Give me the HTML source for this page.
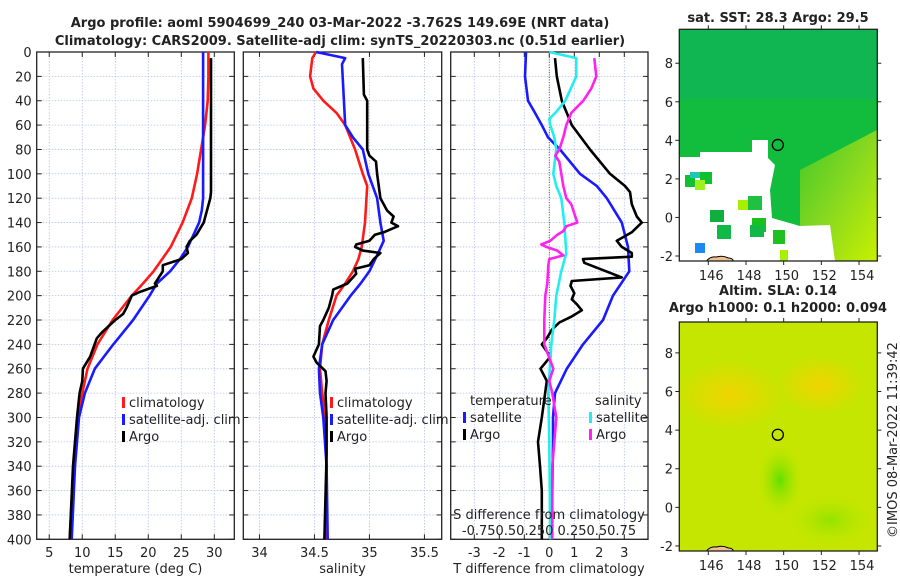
<!DOCTYPE html>
<html><head><meta charset="utf-8">
<style>
body{margin:0;background:#fff;}
svg{display:block;font-family:"DejaVu Sans","Liberation Sans",sans-serif;}
text{fill:#222;}
</style></head>
<body>
<svg id="fig" width="900" height="580" viewBox="0 0 900 580" xmlns="http://www.w3.org/2000/svg">
<defs>
<linearGradient id="ylg" x1="0" y1="0" x2="1" y2="1"><stop offset="0" stop-color="#40c828"/><stop offset="0.5" stop-color="#88d820"/><stop offset="1" stop-color="#c8f000"/></linearGradient>
<radialGradient id="org1" cx="0.5" cy="0.5" r="0.5"><stop offset="0" stop-color="#f0d400"/><stop offset="1" stop-color="#f0d400" stop-opacity="0"/></radialGradient>
<radialGradient id="grn1" cx="0.5" cy="0.5" r="0.5"><stop offset="0" stop-color="#60e000"/><stop offset="1" stop-color="#a8e400" stop-opacity="0"/></radialGradient>
</defs>
<g id="titles">
<text x="340" y="27" text-anchor="middle" font-weight="bold" font-size="13">Argo profile: aoml 5904699_240 03-Mar-2022 -3.762S 149.69E (NRT data)</text>
<text x="340" y="45" text-anchor="middle" font-weight="bold" font-size="13">Climatology: CARS2009. Satellite-adj clim: synTS_20220303.nc (0.51d earlier)</text>
<text x="778" y="22" text-anchor="middle" font-weight="bold" font-size="13">sat. SST: 28.3 Argo: 29.5</text>
<text x="778" y="295" text-anchor="middle" font-weight="bold" font-size="13">Altim. SLA: 0.14</text>
<text x="778" y="312" text-anchor="middle" font-weight="bold" font-size="13">Argo h1000: 0.1 h2000: 0.094</text>
<text transform="translate(897,440) rotate(-90)" text-anchor="middle" font-size="13">©IMOS 08-Mar-2022 11:39:42</text>
</g>
<g id="maps"></g>
<g id="plots"></g>
</svg>
<script>
// ---- data ----
const depthTicks=[0,20,40,60,80,100,120,140,160,180,200,220,240,260,280,300,320,340,360,380,400];
const tempTicks=[5,10,15,20,25,30];
const salTicks=[34,34.5,35,35.5];
const diffTicks=[-3,-2,-1,0,1,2,3];
const sdiffLabels="-0.750.50.250 0.250.50.75";
const tClimDepth=[0,20,40,60,80,100,120,140,160,180,190,200,220,240,260,280,300,340,400];
const tClim=[29.1,29.1,29.0,28.6,28.0,27.4,26.6,25.2,23.4,20.8,19.2,17.5,14.6,12.3,10.8,10.0,9.4,8.7,8.1];
const tSatDepth=[0,40,80,120,130,140,160,170,180,190,200,220,240,260,280,300,340,400];
const tSat=[28.3,28.3,28.3,28.3,28.1,27.7,26.0,24.8,23.3,21.3,20.2,17.7,14.7,11.9,10.4,9.5,8.9,8.4];
const tArgoDepth=[5,40,80,115,120,130,140,150,155,160,165,170,175,180,190,192,197,200,210,215,220,230,235,250,260,270,280,300,340,400];
const tArgo=[29.5,29.5,29.5,29.5,29.4,28.9,28.4,27.3,26.3,25.8,26.0,25.0,22.2,22.2,21.0,21.3,18.7,17.5,16.7,16.2,15.0,13.0,12.2,11.2,10.1,10.0,9.6,9.2,8.6,8.1];
const sClimDepth=[0,5,20,30,40,50,60,80,100,110,140,160,170,180,190,200,220,240,260,280,300,340,400];
const sClim=[34.515,34.48,34.46,34.49,34.58,34.70,34.78,34.87,34.94,34.98,34.96,34.93,34.90,34.85,34.78,34.70,34.63,34.57,34.55,34.57,34.60,34.61,34.61];
const sSatDepth=[0,5,10,60,70,80,100,120,140,155,165,180,190,200,220,240,260,280,300,340,400];
const sSat=[34.515,34.78,34.75,34.78,34.85,34.94,34.99,35.07,35.10,35.13,35.08,35.00,34.92,34.83,34.67,34.57,34.54,34.55,34.58,34.61,34.62];
const sArgoDepth=[5,35,40,80,85,90,100,120,130,135,140,143,148,150,155,158,160,163,165,170,175,178,182,190,195,200,210,220,225,240,250,255,262,270,280,300,330,400];
const sArgo=[34.94,34.95,34.98,34.98,35.0,35.06,35.07,35.10,35.16,35.22,35.20,35.26,35.13,35.05,35.0,34.88,34.87,34.94,35.10,35.04,35.0,34.87,34.88,34.80,34.67,34.66,34.63,34.58,34.55,34.54,34.49,34.52,34.60,34.61,34.60,34.61,34.61,34.59];
const dtSatDepth=[0,20,40,50,60,70,80,100,110,120,140,160,180,200,220,240,260,280,300,320,360,400];
const dtSat=[-0.93,-0.97,-0.85,-0.57,-0.3,-0.05,0.43,1.23,1.9,2.3,2.9,3.15,3.2,2.55,2.15,1.35,0.7,0.23,0.15,0.15,0.12,0.1];
const dtArgoDepth=[5,20,40,60,80,100,110,115,125,135,140,148,155,160,165,168,170,173,185,188,192,198,203,207,212,217,222,228,235,240,250,260,270,300,320,340,360,400];
const dtArgo=[0.23,0.3,0.5,0.9,1.63,2.43,3.03,3.23,3.3,3.5,3.7,3.3,2.7,2.9,3.3,3.3,1.35,1.4,2.9,0.9,0.85,1.0,0.9,1.1,1.3,0.9,0.4,0.1,-0.1,-0.3,0.05,-0.35,-0.1,-0.3,-0.45,-0.37,-0.3,-0.3];
const dsSatDepth=[0,5,20,40,50,55,60,70,80,100,110,120,140,165,180,200,220,240,280,320,400];
const dsSat=[0.0,0.27,0.27,0.16,0.06,0.0,0.01,0.05,0.07,0.04,0.07,0.12,0.15,0.17,0.12,0.07,0.05,0.02,-0.01,0.0,0.01];
const dsArgoDepth=[5,20,30,40,50,60,70,80,85,90,100,110,120,125,130,140,143,147,150,155,158,160,163,167,170,175,190,200,220,240,260,270,280,300,340,400];
const dsArgo=[0.45,0.47,0.42,0.34,0.22,0.17,0.14,0.10,0.06,0.10,0.12,0.14,0.17,0.22,0.24,0.28,0.17,0.14,0.08,0.01,-0.08,-0.03,0.08,0.14,0.0,-0.01,-0.02,-0.04,-0.05,-0.05,0.04,0.0,0.03,0.07,0.03,0.03];
const latTicks=[-2,0,2,4,6,8];
const lonTicks=[146,148,150,152,154];
const argoLon=149.69, argoLat=3.762;

// ---- helpers ----
const NS="http://www.w3.org/2000/svg";
const plots=document.getElementById('plots');
const maps=document.getElementById('maps');
function mk(tag,attrs,parent){const e=document.createElementNS(NS,tag);for(const k in attrs)e.setAttribute(k,attrs[k]);parent.appendChild(e);return e;}
const Y0=52,Y1=539.3;
function yD(d){return Y0+(d/400)*(Y1-Y0);}

function panel(name,x0,x1,dmin,dmax,ticks,tickFmt,showY){
  const g=mk('g',{},plots);
  
  
  const xs=v=>x0+(v-dmin)/(dmax-dmin)*(x1-x0);
  depthTicks.forEach(d=>{
    const l=mk('line',{x1:x0,x2:x1,y1:yD(d),y2:yD(d),stroke:'#b8c0e8','stroke-width':0.8,'stroke-dasharray':'1.5,1.5'},g);
    
    
    mk('line',{x1:x0,x2:x0+5,y1:yD(d),y2:yD(d),stroke:'#222','stroke-width':1},g);
    mk('line',{x1:x1-5,x2:x1,y1:yD(d),y2:yD(d),stroke:'#222','stroke-width':1},g);
    if(showY){const t=mk('text',{x:x0-5,y:yD(d)+5,'text-anchor':'end','font-size':13},g);t.textContent=d;
      
      }
  });
  ticks.forEach(v=>{
    const l=mk('line',{x1:xs(v),x2:xs(v),y1:Y0,y2:Y1,stroke:'#b8c0e8','stroke-width':0.8,'stroke-dasharray':'1.5,1.5'},g);
    
    
    mk('line',{x1:xs(v),x2:xs(v),y1:Y1-5,y2:Y1,stroke:'#222','stroke-width':1},g);
    mk('line',{x1:xs(v),x2:xs(v),y1:Y0,y2:Y0+5,stroke:'#222','stroke-width':1},g);
    const t=mk('text',{x:xs(v),y:557,'text-anchor':'middle','font-size':13},g);t.textContent=tickFmt(v);
    
    
  });
  const fr=mk('rect',{x:x0,y:Y0,width:x1-x0,height:Y1-Y0,fill:'none',stroke:'#222','stroke-width':1.3},g);
  
  
  return {g,xs};
}
function line(p,vals,depths,color,name,w){
  const pts=vals.map((v,i)=>p.xs(v).toFixed(1)+','+yD(depths[i]).toFixed(1)).join(' ');
  const l=mk('polyline',{points:pts,fill:'none',stroke:color,'stroke-width':w||2.6,'stroke-linejoin':'round'},p.g);
  
  
}
function legend(g,x,y,color,label,name){
  mk('rect',{x:x,y:y-10,width:3,height:11,fill:color},g);
  const t=mk('text',{x:x+7,y:y,'font-size':13},g);t.textContent=label;
  
  
}

// ---- panel 1 temperature ----
const p1=panel('temperature-panel',36.7,234.3,3.1,33.03,tempTicks,v=>v,true);
line(p1,tClim,tClimDepth,'#ff1a1a','temp-climatology-line');
line(p1,tSat,tSatDepth,'#1a1aff','temp-satellite-line');
line(p1,tArgo,tArgoDepth,'#000','temp-argo-line');
legend(p1.g,122,407,'#ff1a1a','climatology','legend-climatology');
legend(p1.g,122,424,'#1a1aff','satellite-adj. clim','legend-satellite');
legend(p1.g,122,441,'#000','Argo','legend-argo');
{const t=mk('text',{x:135.5,y:573,'text-anchor':'middle','font-size':13},p1.g);t.textContent='temperature (deg C)';
}

// ---- panel 2 salinity ----
const p2=panel('salinity-panel',243.3,441.7,33.853,35.657,salTicks,v=>v,false);
line(p2,sClim,sClimDepth,'#ff1a1a','sal-climatology-line');
line(p2,sSat,sSatDepth,'#1a1aff','sal-satellite-line');
line(p2,sArgo,sArgoDepth,'#000','sal-argo-line');
legend(p2.g,330,407,'#ff1a1a','climatology','legend-climatology');
legend(p2.g,330,424,'#1a1aff','satellite-adj. clim','legend-satellite');
legend(p2.g,330,441,'#000','Argo','legend-argo');
{const t=mk('text',{x:342.5,y:573,'text-anchor':'middle','font-size':13},p2.g);t.textContent='salinity';
}

// ---- panel 3 differences ----
const p3=panel('difference-panel',450.7,648,-3.944,3.948,diffTicks,v=>v,false);
{const z=mk('line',{x1:p3.xs(0),x2:p3.xs(0),y1:Y0,y2:Y1,stroke:'#556b2f','stroke-width':1,'stroke-dasharray':'1,1.5'},p3.g);
}
line(p3,dtSat,dtSatDepth,'#1a1aff','tdiff-satellite-line');
line(p3,dtArgo,dtArgoDepth,'#000','tdiff-argo-line');
line(p3,dsSat.map(v=>v*4),dsSatDepth,'#22eeee','sdiff-satellite-line');
line(p3,dsArgo.map(v=>v*4),dsArgoDepth,'#ff22ee','sdiff-argo-line');
{const t=mk('text',{x:470,y:405,'font-size':13},p3.g);t.textContent='temperature';

const s=mk('text',{x:595,y:405,'font-size':13},p3.g);s.textContent='salinity';
}
legend(p3.g,463,422,'#1a1aff','satellite','legend-t-satellite');
legend(p3.g,463,439,'#000','Argo','legend-t-argo');
legend(p3.g,589,422,'#22eeee','satellite','legend-s-satellite');
legend(p3.g,589,439,'#ff22ee','Argo','legend-s-argo');
{const t=mk('text',{x:549,y:519,'text-anchor':'middle','font-size':13},p3.g);t.textContent='S difference from climatology';

const u=mk('text',{x:549,y:535,'text-anchor':'middle','font-size':13},p3.g);u.textContent=sdiffLabels;

const w=mk('text',{x:549,y:573,'text-anchor':'middle','font-size':13},p3.g);w.textContent='T difference from climatology';
}

// ---- maps ----
const MX0=679.3,MX1=877.3,LON0=144.46,LON1=154.97;
const mxs=v=>MX0+(v-LON0)/(LON1-LON0)*(MX1-MX0);
function mapAxes(name,yT,yB,latT,latB,drawBg){
  const g=mk('g',{},maps);
  
  
  const ys=v=>yT+(latT-v)/(latT-latB)*(yB-yT);
  drawBg(g,ys);
  latTicks.forEach(v=>{
    mk('line',{x1:MX0,x2:MX0-4,y1:ys(v),y2:ys(v),stroke:'#222'},g);
    mk('line',{x1:MX1,x2:MX1+4,y1:ys(v),y2:ys(v),stroke:'#222'},g);
    const t=mk('text',{x:673,y:ys(v)+5,'text-anchor':'end','font-size':13},g);t.textContent=v;
    
  });
  lonTicks.forEach(v=>{
    mk('line',{x1:mxs(v),x2:mxs(v),y1:yB,y2:yB+4,stroke:'#222'},g);
    mk('line',{x1:mxs(v),x2:mxs(v),y1:yT,y2:yT-4,stroke:'#222'},g);
    const t=mk('text',{x:mxs(v)+3,y:yB+19,'text-anchor':'middle','font-size':13},g);t.textContent=v;
    
  });
  const c=mk('circle',{cx:mxs(argoLon),cy:ys(argoLat),r:5.5,fill:'none',stroke:'#000','stroke-width':1.3},g);
  
  const isl=mk('path',{d:`M${mxs(145.9)},${yB} q4,-5 10,-4 q6,-2 12,1 q4,0 5,3 z`,fill:'#f0c090',stroke:'#000','stroke-width':1},g);
  
  const fr=mk('rect',{x:MX0,y:yT,width:MX1-MX0,height:yB-yT,fill:'none',stroke:'#222','stroke-width':1.3},g);
  
}
mapAxes('sst-map',29.3,261,9.76,-2.26,(g,ys)=>{
  mk('rect',{x:MX0,y:29.3,width:MX1-MX0,height:231.7,fill:'#12bc3c'},g);
  mk('rect',{x:MX0,y:29.3,width:MX1-MX0,height:70,fill:'#10b458',opacity:0.8},g);
  mk('polygon',{points:'800,170 877,130 877,261 835,261 800,235',fill:'url(#ylg)'},g);
  mk('polygon',{points:'679.3,157 700,157 700,152 752,152 752,140 768,140 768,158 775,165 770,190 772,218 800,226 830,225 835,261 679.3,261',fill:'#fff'},g);
  [[700,172,12,12,'#10c030'],[685,175,10,12,'#10c030'],[695,180,10,10,'#a0f020'],[710,210,14,12,'#10b040'],[748,196,14,14,'#20c040'],[752,218,14,14,'#18c020'],[738,200,10,10,'#a8f000'],[717,225,14,14,'#10b848'],[750,225,14,12,'#10b848'],[773,230,12,14,'#20c020'],[695,243,10,10,'#1e88f0'],[690,172,10,6,'#20c8b0'],[780,250,8,11,'#a8f000']].forEach(r=>{
    const e=mk('rect',{x:r[0],y:r[1],width:r[2],height:r[3],fill:r[4]},g);
    
  });
});
mapAxes('sla-map',322,551,9.6,-2.26,(g,ys)=>{
  mk('rect',{x:MX0,y:322,width:MX1-MX0,height:229,fill:'#c4e600'},g);
  mk('ellipse',{cx:730,cy:395,rx:55,ry:35,fill:'url(#org1)'},g);
  mk('ellipse',{cx:820,cy:385,rx:45,ry:30,fill:'url(#org1)'},g);
  mk('ellipse',{cx:780,cy:480,rx:22,ry:35,fill:'url(#grn1)'},g);
  mk('ellipse',{cx:830,cy:520,rx:40,ry:25,fill:'url(#grn1)',opacity:0.5},g);
});
</script>
</body></html>
